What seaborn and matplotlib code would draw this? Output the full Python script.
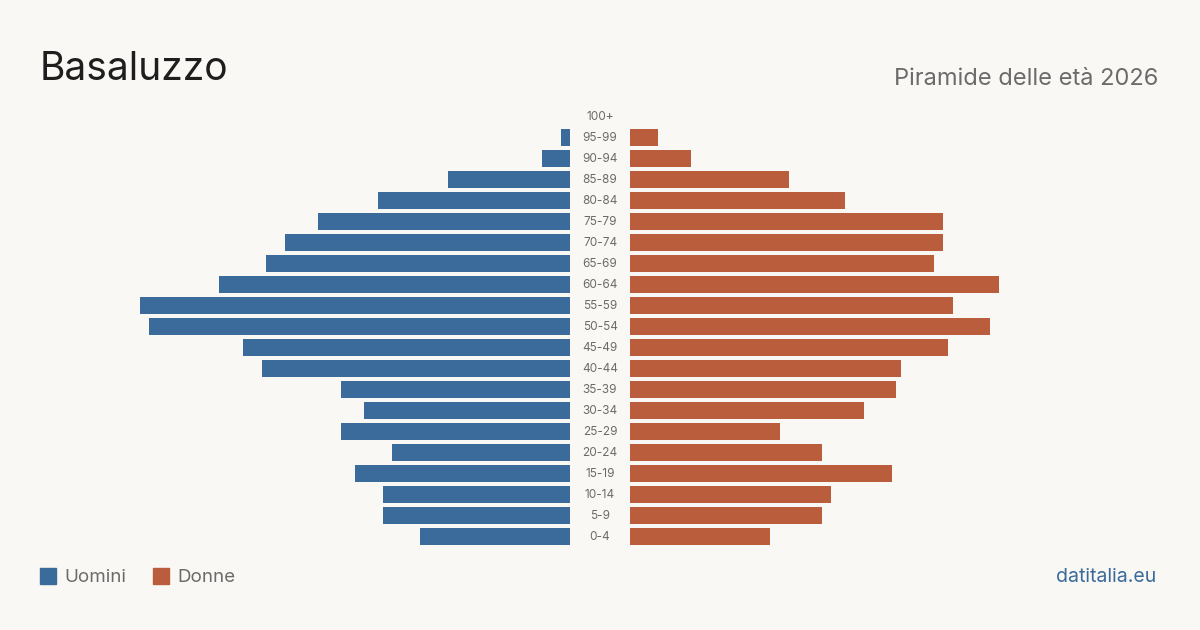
import pandas as pd
import matplotlib.pyplot as plt
import seaborn as sns

# --- data ---
AGE_GROUPS = ['100+', '95-99', '90-94', '85-89', '80-84', '75-79', '70-74', '65-69',
              '60-64', '55-59', '50-54', '45-49', '40-44', '35-39', '30-34', '25-29',
              '20-24', '15-19', '10-14', '5-9', '0-4']
MEN = [0, 2, 6, 26, 41, 54, 61, 65, 75, 92, 90, 70, 66, 49, 44, 49, 38, 46, 40, 40, 32]
WOMEN = [0, 6, 13, 34, 46, 67, 67, 65, 79, 69, 77, 68, 58, 57, 50, 32, 41, 56, 43, 41, 30]

BG = '#f9f8f4'
BLUE = '#3b6b9b'
ORANGE = '#b95d3c'
GREY = '#6b6b6b'

W, H = 1200, 630
XMAX = 530 / (430 / 92)  # same scale on both sides

df = pd.DataFrame({'age': AGE_GROUPS, 'men': MEN, 'women': WOMEN})

sns.set_style('white')
plt.rcParams['font.family'] = ['Inter', 'DejaVu Sans']

fig = plt.figure(figsize=(W / 100, H / 100), dpi=100, facecolor=BG)

top, bottom = 106, 547
ax_h = (bottom - top) / H
ax_y = 1 - bottom / H
ax_l = fig.add_axes([40 / W, ax_y, 530 / W, ax_h])
ax_r = fig.add_axes([630 / W, ax_y, 530 / W, ax_h])

sns.barplot(data=df, x='men', y='age', order=AGE_GROUPS, color=BLUE, width=0.81,
            saturation=1, linewidth=0, ax=ax_l)
sns.barplot(data=df, x='women', y='age', order=AGE_GROUPS, color=ORANGE, width=0.81,
            saturation=1, linewidth=0, ax=ax_r)

ax_l.set_xlim(XMAX, 0)
ax_r.set_xlim(0, XMAX)
for ax in (ax_l, ax_r):
    ax.set_facecolor('none')
    ax.set_ylim(len(AGE_GROUPS) - 0.5, -0.5)
    ax.set_xticks([])
    ax.set_yticks([])
    ax.set_xlabel('')
    ax.set_ylabel('')
    sns.despine(ax=ax, left=True, bottom=True)

# age labels in the gap
for i, a in enumerate(AGE_GROUPS):
    y = 1 - (117 + 21 * i) / H
    fig.text(600 / W, y, a, ha='center', va='center', fontsize=8.5, color=GREY)

fig.text(40 / W, 1 - 80 / H, 'Basaluzzo', fontsize=28, color='#1e1e1e',
         ha='left', va='baseline')
fig.text(1158 / W, 1 - 85 / H, 'Piramide delle età 2026', fontsize=17, color=GREY,
         ha='right', va='baseline')

# legend
for x0, lab, col in [(40, 'Uomini', BLUE), (153, 'Donne', ORANGE)]:
    fig.patches.append(plt.Rectangle((x0 / W, 1 - 584 / H), 16 / W, 16 / H,
                                     transform=fig.transFigure, color=col, figure=fig))
    fig.text((x0 + 24) / W, 1 - 577.5 / H, lab, fontsize=13.5, color=GREY,
             ha='left', va='center')

fig.text(1156 / W, 1 - 577.5 / H, 'datitalia.eu', fontsize=14, color=BLUE,
         ha='right', va='center')

fig.savefig('out.png', dpi=100, facecolor=BG)
